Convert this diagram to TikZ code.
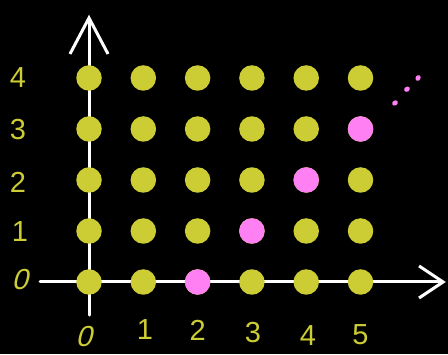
\documentclass[tikz,border=0pt]{standalone}
\usepackage{fontspec}
\setmainfont{Liberation Sans}
\usepackage{xcolor}
\usepackage{tikz}
\usetikzlibrary{arrows.meta,positioning,shapes.geometric}
\definecolor{dotyellow}{RGB}{204,204,52}
\definecolor{dotpink}{RGB}{255,128,242}

\begin{document}
\begin{tikzpicture}[
  x=54.3pt, y=51pt,
  dot/.style={circle,fill=dotyellow,minimum size=25.5pt,inner sep=0pt},
  hit/.style={dot,fill=dotpink},
  tiny/.style={ellipse,fill=dotpink,minimum width=6pt,minimum height=5pt,inner sep=0pt},
  axis/.style={white,line width=3pt,line cap=round},
  num/.style={text=dotyellow,font=\fontsize{29}{29}\selectfont,inner sep=1pt},
]
  % background and page size
  \fill[black] (-1.639,-1.412) rectangle (6.611,5.529);
  \useasboundingbox (-1.639,-1.412) rectangle (6.611,5.529);

  % axes
  \coordinate (xstart) at (-0.90,0);
  \coordinate (xend) at (6.57,0);
  \coordinate (ystart) at (0,-0.65);
  \coordinate (yend) at (0,5.24);
  \draw[axis,-{Straight Barb[length=24pt,width=32pt,line width=3pt]}] (xstart) -- (xend);
  \draw[axis,-{Straight Barb[length=36pt,width=38pt,line width=3pt]}] (ystart) -- (yend);

  % grid of points
  \foreach \i in {0,...,5}
    \foreach \j in {0,...,4}
      \node[dot] (d-\i-\j) at (\i,\j) {};
  \foreach \i/\j in {2/0,3/1,4/2,5/3}
    \node[hit] (h-\i-\j) at (\i,\j) {};

  % dots going on
  \node[tiny,rotate=30] (e1) at (5.635,3.51) {};
  \node[tiny,rotate=30] (e2) at (5.856,3.78) {};
  \node[tiny,rotate=60] (e3) at (6.06,4.00) {};

  % labels
  \node[num] (ly4) at (-1.31,4.00) {4};
  \node[num] (ly3) at (-1.31,2.98) {3};
  \node[num] (ly2) at (-1.31,1.95) {2};
  \node[num] (ly1) at (-1.27,0.98) {1};
  \node[num,xslant=0.25] (ly0) at (-1.23,0.04) {0};
  \node[num,xslant=0.25] (lx0) at (-0.05,-1.06) {0};
  \node[num] (lx1) at (1.03,-0.94) {1};
  \node[num] (lx2) at (2.00,-0.95) {2};
  \node[num] (lx3) at (3.02,-1.00) {3};
  \node[num] (lx4) at (4.03,-1.04) {4};
  \node[num] (lx5) at (5.00,-1.04) {5};
\end{tikzpicture}
\end{document}
